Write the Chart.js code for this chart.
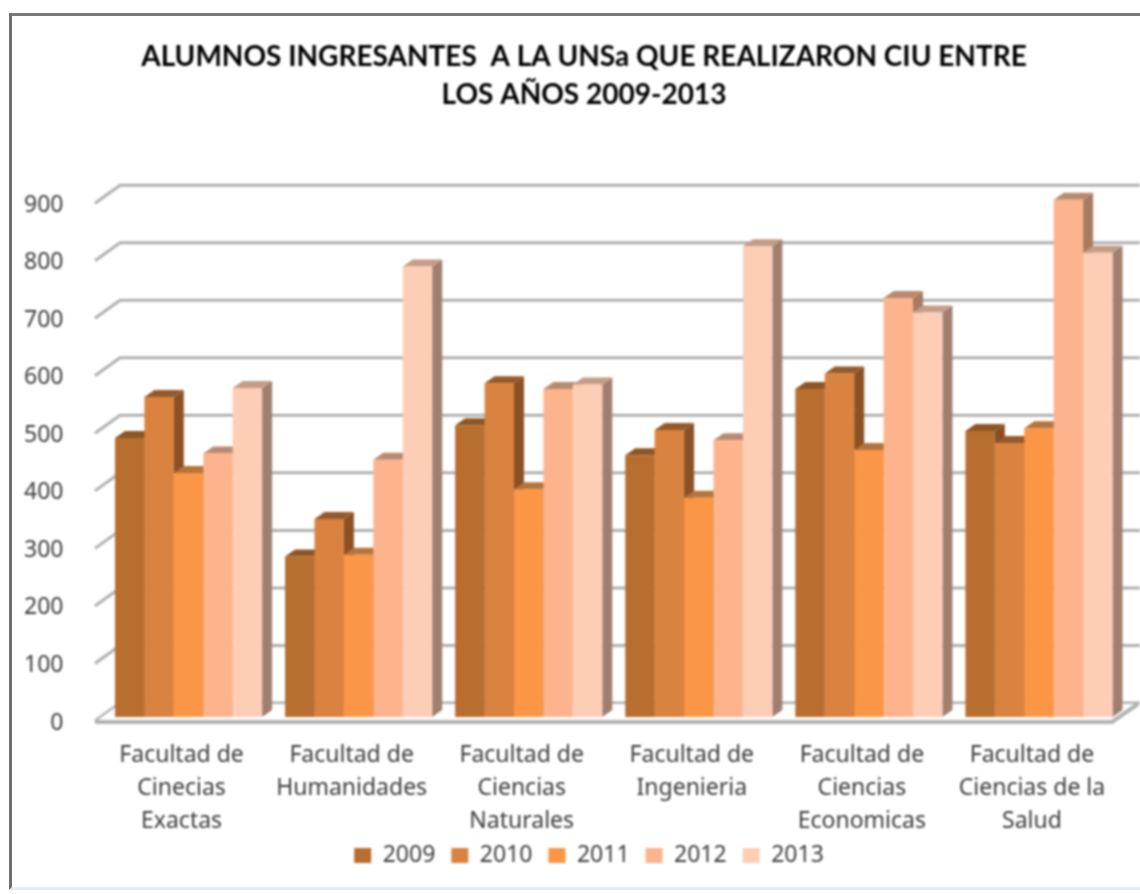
<!DOCTYPE html>
<html>
<head>
<meta charset="utf-8">
<title>Alumnos ingresantes</title>
<script src="https://cdn.jsdelivr.net/npm/chart.js@4/dist/chart.umd.min.js"></script>
<style>
html, body { margin: 0; padding: 0; background: #fff; overflow: hidden; }
#frame { position: absolute; left: 9px; top: 13px; width: 1131px; height: 877px; border-left: 3px solid #6e6e6e; border-top: 3px solid #7a7a7a; border-bottom: 3px solid #e4ecf4; box-sizing: border-box; }
#wrap { position: absolute; left: 0; top: 0; width: 1140px; height: 894px; filter: blur(0.9px); }
</style>
</head>
<body>
<div id="frame"></div>
<div id="wrap"><canvas id="grafico" width="1140" height="894"></canvas></div>
<script>
const titulo = ['ALUMNOS INGRESANTES  A LA UNSa QUE REALIZARON CIU ENTRE', 'LOS AÑOS 2009-2013'];
const facultades = [
    ['Facultad de', 'Cinecias', 'Exactas'],
    ['Facultad de', 'Humanidades'],
    ['Facultad de', 'Ciencias', 'Naturales'],
    ['Facultad de', 'Ingenieria'],
    ['Facultad de', 'Ciencias', 'Economicas'],
    ['Facultad de', 'Ciencias de la', 'Salud']
];
const anios = ['2009', '2010', '2011', '2012', '2013'];
const v2009 = [485, 279, 507, 455, 570, 497];
const v2010 = [556, 344, 580, 499, 597, 476];
const v2011 = [424, 282, 396, 381, 464, 502];
const v2012 = [458, 447, 570, 481, 728, 899];
const v2013 = [572, 783, 578, 818, 703, 807];
const colores = ['#b86e2f', '#da8240', '#fa9646', '#fdb48c', '#fdcdb6'];
const lados = ['#874e20', '#8b5023', '#a5652c', '#a87a60', '#a07e70'];
const tapas = ['#8f5522', '#96592a', '#b5743a', '#b98a70', '#c49c88'];
const valores = [v2009, v2010, v2011, v2012, v2013];

// pared del fondo, piso y caras laterales de las barras (falso 3D)
const prof = { dx: 10, dy: -7 };
const fondo3d = {
    id: 'fondo3d',
    afterLayout(chart) {
        chart.scales.y.left = 0; // si no, recorta las etiquetas del eje
        chart.legend.left += 5;
        chart.legend.right += 5;
    },
    beforeDatasetsDraw(chart) {
        const ctx = chart.ctx, y = chart.scales.y;
        ctx.save();
        ctx.lineWidth = 3;
        ctx.strokeStyle = '#b0b0b0';
        y.ticks.forEach(t => {
            const f = y.getPixelForValue(t.value) + 4;
            ctx.beginPath();
            ctx.moveTo(95, f);
            ctx.lineTo(120, f - 18);
            ctx.lineTo(chart.width, f - 18);
            ctx.stroke();
        });
        const f0 = y.getPixelForValue(0) + 4;
        ctx.fillStyle = '#ffffff';
        ctx.beginPath();
        ctx.moveTo(95, f0 + 1);
        ctx.lineTo(120, f0 - 17);
        ctx.lineTo(1140, f0 - 17);
        ctx.lineTo(1112, f0 + 1);
        ctx.fill();
        ctx.strokeStyle = '#b0b2b4';
        ctx.lineWidth = 4;
        ctx.beginPath();
        ctx.moveTo(95, f0 + 1);
        ctx.lineTo(1112, f0 + 1);
        ctx.lineTo(1138, f0 - 17);
        ctx.stroke();

        anios.forEach((a, i) => {
            chart.getDatasetMeta(i).data.forEach(bar => {
                const der = bar.x + bar.width / 2, izq = bar.x - bar.width / 2;
                ctx.fillStyle = lados[i];
                ctx.beginPath();
                ctx.moveTo(der, bar.y);
                ctx.lineTo(der + prof.dx, bar.y + prof.dy);
                ctx.lineTo(der + prof.dx, bar.base + prof.dy);
                ctx.lineTo(der, bar.base);
                ctx.fill();
                ctx.fillStyle = tapas[i];
                ctx.beginPath();
                ctx.moveTo(izq, bar.y);
                ctx.lineTo(izq + prof.dx, bar.y + prof.dy);
                ctx.lineTo(der + prof.dx, bar.y + prof.dy);
                ctx.lineTo(der, bar.y);
                ctx.fill();
            });
        });
        ctx.restore();
    }
};

new Chart(document.getElementById('grafico'), {
    type: 'bar',
    data: {
        labels: facultades,
        datasets: anios.map((a, i) => ({
            label: a,
            data: valores[i],
            backgroundColor: colores[i],
            categoryPercentage: 0.865,
            barPercentage: 1
        }))
    },
    plugins: [fondo3d],
    options: {
        responsive: false,
        animation: false,
        layout: { padding: { left: 44, right: 16, top: 38, bottom: 17 } },
        scales: {
            x: {
                grid: { display: false },
                border: { display: false },
                ticks: { color: '#3c3c3c', font: { family: 'Noto Sans', size: 23, lineHeight: 1.43 }, padding: 14, labelOffset: -7, maxRotation: 0, autoSkip: false },
                afterFit(s) { s.height = 111; }
            },
            y: {
                min: 0,
                max: 900,
                grid: { display: false },
                border: { display: false },
                ticks: { stepSize: 100, color: '#3c3c3c', font: { family: 'Noto Sans', size: 23 }, padding: 32, labelOffset: 6 },
                afterFit(s) { s.width = 59.5; }
            }
        },
        plugins: {
            title: {
                display: true,
                text: titulo,
                color: '#000000',
                font: { family: 'Lato', size: 28, weight: 'bold', lineHeight: 1.36 },
                padding: { top: 0, bottom: 85 }
            },
            legend: {
                position: 'bottom',
                labels: { color: '#3c3c3c', font: { family: 'Noto Sans', size: 23 }, boxWidth: 17, boxHeight: 15, padding: 16 }
            },
            tooltip: { enabled: false }
        }
    }
});
</script>
</body>
</html>
